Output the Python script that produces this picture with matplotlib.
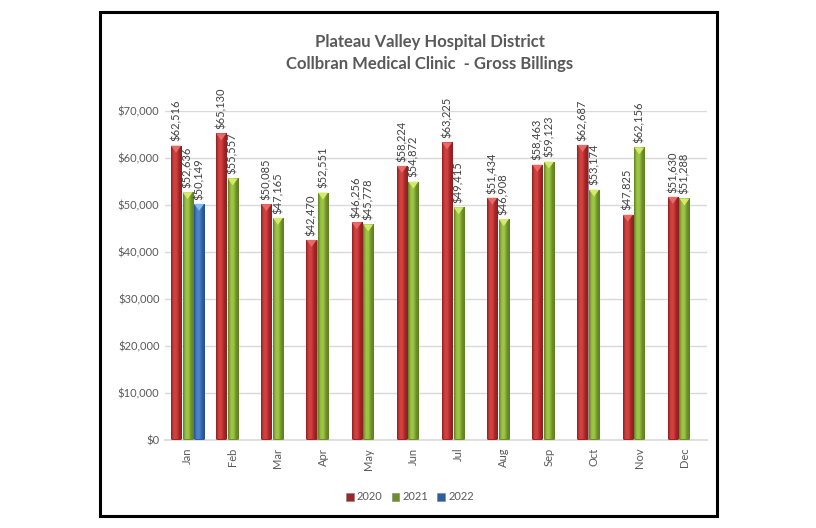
import matplotlib
matplotlib.use("Agg")
import matplotlib.pyplot as plt
import numpy as np
from matplotlib.patches import Rectangle, Polygon
from matplotlib.colors import LinearSegmentedColormap

months = ["Jan", "Feb", "Mar", "Apr", "May", "Jun", "Jul", "Aug", "Sep", "Oct", "Nov", "Dec"]
y2020 = [62516, 65130, 50085, 42470, 46256, 58224, 63225, 51434, 58463, 62687, 47825, 51630]
y2021 = [52636, 55557, 47165, 52551, 45778, 54872, 49415, 46908, 59123, 53174, 62156, 51288]
y2022 = [50149]
series = [("2020", y2020), ("2021", y2021), ("2022", y2022)]
yticks = [0, 10000, 20000, 30000, 40000, 50000, 60000, 70000]

colors = {
    "2020": ("#8E1F22", "#D2403F", "#A02528", "#E86A66"),
    "2021": ("#5F7F22", "#9CC445", "#6E9028", "#D4EA6A"),
    "2022": ("#24508F", "#4A82C8", "#2F5EA0", "#86BCEB"),
}

plt.rcParams['font.family'] = ['Lato', 'DejaVu Sans']
fig = plt.figure(figsize=(8.16, 5.28), dpi=100)
ax = fig.add_axes([165/816, 1-439.5/528, (707-165)/816, (439.5-110.5)/528])

n = len(months)
x = np.arange(n)
bw = 0.255
offsets = [-bw, 0, bw]
wdraw = bw * 0.88
text_col = "#404040"

for (name, vals), off in zip(series, offsets):
    dk, lt, mid, cap = colors[name]
    xs = x[:len(vals)] + off
    bars = ax.bar(xs, vals, width=wdraw, color=mid, edgecolor="#7f7f7f", linewidth=0.4, zorder=3,
                  label=name)
    cmap = LinearSegmentedColormap.from_list("g", [dk, lt, lt, mid, dk])
    grad = np.linspace(0, 1, 64).reshape(1, -1)
    for b, v in zip(bars, vals):
        x0 = b.get_x(); w = b.get_width()
        im = ax.imshow(grad, extent=[x0, x0 + w, 0, v], aspect="auto", cmap=cmap,
                       zorder=3.5, interpolation="bilinear")
        im.set_clip_path(b)
        # pyramid cap highlight
        capd = 1500
        ax.add_patch(Polygon([[x0, v], [x0 + w, v], [x0 + w/2, v - capd]], closed=True,
                             facecolor=cap, edgecolor="none", zorder=4))
        ax.text(x0 + w/2, v + 900, "${:,}".format(v), rotation=90, ha="center", va="bottom",
                fontsize=8, color=text_col, zorder=5)

ax.set_xlim(-0.5, n - 0.5)
ax.set_ylim(0, 70000)
ax.set_yticks(yticks)
ax.set_yticklabels(["${:,}".format(t) for t in yticks], fontsize=8, color="#595959")
ax.set_xticks(x)
ax.set_xticklabels(months, rotation=90, fontsize=8, color="#595959")
ax.tick_params(axis="both", length=0, pad=6)
ax.tick_params(axis="y", pad=4)
ax.grid(axis="y", color="#D9D9D9", linewidth=1, zorder=0)
for s in ["left", "right", "top"]:
    ax.spines[s].set_visible(False)
ax.spines["bottom"].set_color("#D9D9D9")
ax.spines["bottom"].set_linewidth(1.2)

fig.text(0.527, 1-42/528, "Plateau Valley Hospital District", ha="center", va="center",
         fontsize=12, fontweight="bold", color="#595959")
fig.text(0.527, 1-64/528, "Collbran Medical Clinic  - Gross Billings", ha="center", va="center",
         fontsize=12, fontweight="bold", color="#595959")

handles = [Rectangle((0, 0), 1, 1, facecolor=colors[k][2], edgecolor="#7f7f7f", linewidth=0.4)
           for k in ["2020", "2021", "2022"]]
fig.legend(handles, ["2020", "2021", "2022"], loc="center", bbox_to_anchor=(410/816, 1-497/528),
           ncol=3, frameon=False, fontsize=8, handlelength=0.7, handleheight=0.7,
           handletextpad=0.3, columnspacing=0.8, labelcolor="#595959")

fig.patches.append(Rectangle((99.5/816, 1-515.5/528), (716.5-99.5)/816, (515.5-12)/528,
                             transform=fig.transFigure, fill=False, edgecolor="black",
                             linewidth=2.2, zorder=10))

fig.savefig("out.png", dpi=100)
